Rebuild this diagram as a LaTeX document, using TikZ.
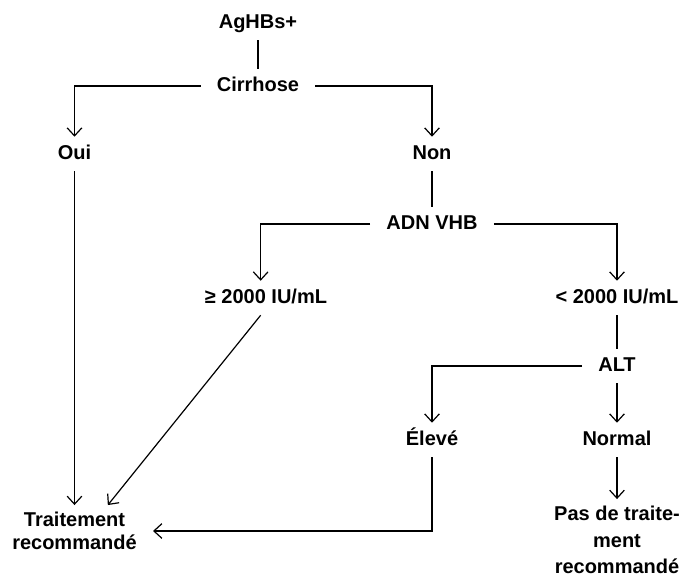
\documentclass[tikz,border=0pt]{standalone}
\usepackage{fontspec}
\setmainfont{Liberation Sans}
\usetikzlibrary{arrows.meta,positioning}

\tikzset{
  box/.style={font=\fontsize{15}{17}\selectfont\bfseries, inner xsep=12pt, inner ysep=5.25pt, align=center},
  lbl/.style={box, text height=11.25pt, text depth=3.75pt},
  link/.style={line width=0.9pt},
  arr/.style={link, -{Straight Barb[length=6pt,width=11pt]}}
}

\begin{document}
\begin{tikzpicture}[x=0.75pt, y=-0.75pt]
\useasboundingbox (0,0) rectangle (682,578);

\def\xa{74.5}
\def\xb{258}
\def\xc{266}
\def\xd{432}
\def\xe{617}

\def\ya{23}
\def\yb{86}
\def\yc{154}
\def\yd{224}
\def\ye{298}
\def\yf{366}
\def\yg{440}

\node[lbl] (agh) at (\xb, \ya) {AgHBs+};
\node[lbl] (cirr) at (\xb, \yb) {Cirrhose};
\node[lbl] (oui) at (\xa, \yc) {Oui};
\node[lbl] (non) at (\xd, \yc) {Non};
\node[lbl] (adn) at (\xd, \yd) {ADN VHB};
\node[lbl] (hi) at (\xc, \ye) {≥ 2000 IU/mL};
\node[lbl] (lo) at (\xe, \ye) {< 2000 IU/mL};
\node[lbl] (alt) at (\xe, \yf) {ALT};
\node[lbl] (elev) at (\xd, \yg) {Élevé};
\node[lbl] (norm) at (\xe, \yg) {Normal};
\node[box] (trt) at (\xa, 531) {Traitement\\recommandé};
\node[box, font=\fontsize{15}{19.75}\selectfont\bfseries] (notrt) at (\xe, 540) {Pas de traite-\\ment\\recommandé};

\draw[link] (agh) -- (cirr);
\draw[arr] (cirr.west) -| (oui.north);
\draw[arr] (cirr.east) -| (non.north);
\draw[arr] (oui) -- (trt);
\draw[link] (non) -- (adn);
\draw[arr] (adn.west) -| ([xshift=-4pt]hi.north);
\draw[arr] (adn.east) -| (lo.north);
\draw[arr] ([xshift=-4pt]hi.south) -- ([xshift=25pt]trt.north);
\draw[link] (lo) -- (alt);
\draw[arr] (alt.west) -| (elev.north);
\draw[arr] (alt) -- (norm);
\draw[arr] (elev.south) |- (trt.east);
\draw[arr] (norm) -- (notrt);

\end{tikzpicture}
\end{document}
